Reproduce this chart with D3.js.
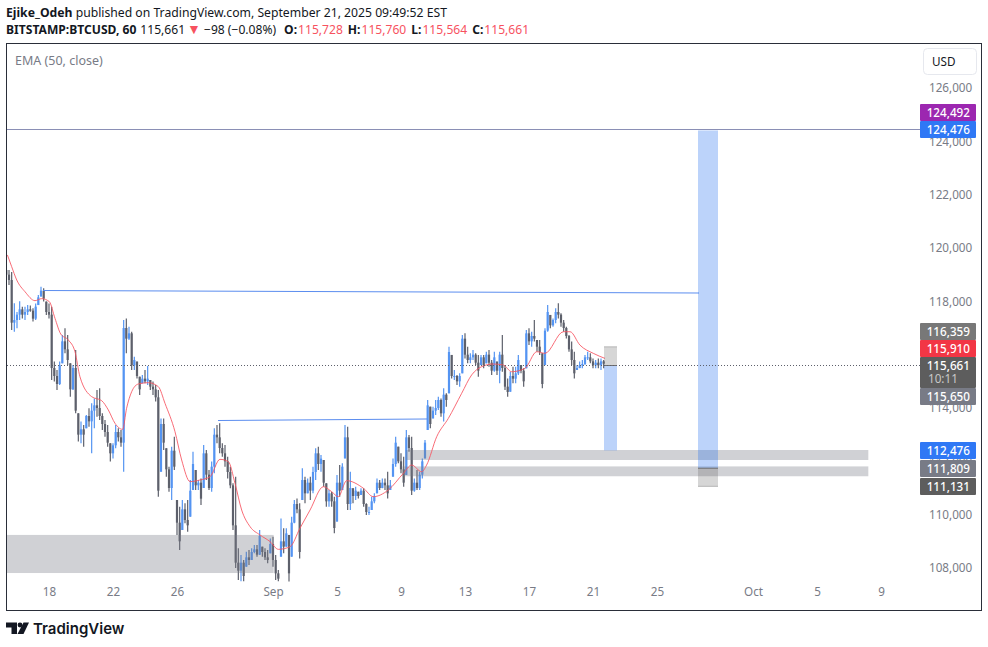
<!DOCTYPE html>
<html>
<head>
<meta charset="utf-8">
<script src="https://cdn.jsdelivr.net/npm/d3@7"></script>
<style>
  body { margin: 0; background: #fff; }
  svg text { font-family: "Noto Sans", sans-serif; }
  .axis path, .axis line { display: none; }
</style>
</head>
<body>
<script>
// 4 hour bars, first one is Aug 15 08:00
var highs = [119175,119175,119100,117925,117600,118000,117800,117800,117860,117840,117740,117920,118240,118550,118490,117990,117920,117800,115740,115425,115740,116740,116990,116740,115675,115610,116175,113800,113490,113360,113740,113990,114175,114360,114675,114740,113800,113550,113360,112675,112675,113360,113240,113175,117300,117360,117050,116860,115925,115740,115175,115240,115425,115575,115050,114990,114860,114675,113610,113610,112490,111800,112550,112925,110550,110300,110550,110425,110550,111300,112360,111675,111300,111360,112610,112425,111675,111990,113240,113360,113425,112675,112610,112175,111800,111175,111425,108740,108490,108300,108610,108675,108740,108860,108860,109425,108800,108740,108675,109110,109175,108490,107925,109860,109490,109490,109240,109925,110550,110610,110425,111740,111425,111360,111425,111800,112490,112550,112240,112050,111175,110925,110860,110675,111490,111860,111925,113360,113300,111610,110990,111050,110860,110990,110990,110425,110300,110675,110800,111360,111300,111360,111360,111610,111300,112110,112925,112550,112300,112175,113175,112990,112925,111360,111675,111610,112110,112800,114300,114050,114050,114300,114425,114360,114740,114550,116300,115990,115425,115240,115300,116740,116800,116300,116050,116175,116050,115990,115990,115990,116110,116175,115800,116110,115740,116110,116740,115610,115110,115360,115550,115550,115990,115610,115490,116925,116990,116860,117300,116550,116550,116050,116990,117860,117490,117360,117740,117925,117550,117300,117050,116740,116490,116110,115610,115740,115800,115990,116110,116050,115860,115800,115860,115860,115800];
var lows = [118612,118612,116925,116860,116990,117300,117360,117300,117490,117610,117240,117300,117860,118180,117990,117490,117360,115050,114990,114675,114860,115675,116050,115610,114425,114675,113800,112740,112675,112550,113240,113300,112300,113240,113675,113550,113175,112925,112550,111990,112110,112490,112740,112550,111610,116050,116550,115425,115425,115110,114490,114925,114925,114860,114675,114490,114240,110675,111610,112425,111425,110860,110550,111675,109240,108675,109425,109675,109360,109925,110925,110925,110925,110360,111000,111300,110925,110860,111550,112675,112300,112175,111800,111360,110990,109425,108000,107550,107500,107500,108050,108110,108300,108550,108425,108490,108425,108300,108175,108550,108050,107550,107500,108425,108550,108800,107490,108425,109675,110050,108360,110550,110425,110800,110550,110800,111300,111675,111610,111050,110300,110300,110300,109300,109740,110675,110925,112110,110175,110175,110425,110550,110610,110740,110300,109990,109990,110175,110425,110800,110925,110990,110925,110610,110925,111425,111800,111925,111550,111050,111490,112360,110740,110860,110925,110925,111360,112110,113175,113240,113610,113740,113925,113675,113490,114050,114550,115110,115050,114860,114800,115300,115860,115675,115675,115800,115610,115175,115610,115490,115675,115550,115240,115360,115240,114925,115360,114675,114425,114610,114925,114925,115240,115300,114800,115490,116360,116300,116490,116110,115990,114740,115610,116860,116990,117050,117175,117360,117050,116860,116610,116110,115610,115110,115425,115490,115490,115610,115800,115675,115490,115490,115490,115425,115490];
var closes = [119000,118800,117200,117300,117500,117700,117500,117600,117700,117650,117350,117800,118150,118400,118100,117600,117500,115500,115200,114900,115600,116500,116200,115800,114700,115500,113900,113000,113200,113000,113700,113500,113900,114100,114000,113700,113400,113100,112700,112300,112600,113100,112900,112700,117000,116600,116800,115600,115800,115200,114700,115100,115000,115100,114800,114700,114400,110900,113400,112700,111700,111000,112400,111800,109700,109000,110200,109800,109600,110900,111900,111100,111200,110600,112300,111500,111000,111800,113000,112900,112500,112300,112000,111600,111100,109600,108200,107900,108200,107700,108400,108300,108600,108700,108500,109200,108600,108400,108300,108900,108300,107800,107600,109000,108800,109300,107800,109700,110400,110200,108600,111300,110800,111200,110900,111600,112300,111900,112100,111200,110500,110800,110500,109500,111200,110900,111800,112900,110400,111000,110700,110900,110700,110900,110400,110100,110100,110500,110700,111200,111000,111200,111100,110800,111100,111900,112700,112000,111700,111200,112900,112500,110900,111200,111000,111500,112000,112700,114100,113400,113900,114000,114300,113800,114500,114300,116100,115200,115200,115000,115200,116600,116000,115800,115900,116000,115700,115400,115900,115600,116000,115700,115400,115900,115400,116000,115500,114800,114600,115200,115100,115300,115800,115400,115000,116800,116500,116700,116600,116300,116100,114900,116900,117600,117100,117300,117600,117500,117200,117000,116700,116200,115800,115300,115500,115600,115650,115900,115900,115750,115600,115700,115600,115750,115661];

// EMA (50), position given in bar numbers
var emaBars = [0.4,2,3.9,7,10.75,13.25,16.1,18.25,20.4,23.25,25.75,27.6,32,35.75,38.25,40.75,43.6,45.1,47,49.5,53.25,57,59.5,63.25,65.75,68.9,72.6,76.4,80.1,83.25,85.75,88.25,91.4,95.1,98.9,102,106.4,110.1,113.9,118.9,122,124.5,127.6,133.9,137.6,143.25,148.9,152,155.75,157.6,161.4,165.75,170.75,174.5,178.25,182.6,186.4,189.5,194.5,198.9,202,208.9,211.4,215.1,220.1,224.5];
var emaValues = [119740,119300,118800,118360,118025,118100,117990,117360,116775,116550,116110,115175,114425,114275,113925,113425,113200,113990,114610,114900,114950,114800,114175,113110,112050,111240,111300,111425,112075,111990,111175,110175,109550,109240,108990,108700,108800,109490,110175,111050,110860,110675,111275,110990,110675,110925,111550,111860,111610,111860,112925,113610,114550,115240,115550,115650,115610,115360,115490,116110,116050,116860,116860,116360,116050,115860];

var priceTicks = [126000,124000,122000,120000,118000,116000,114000,112000,110000,108000];
var timeTicks = [new Date(2025,7,18),new Date(2025,7,22),new Date(2025,7,26),new Date(2025,8,1),new Date(2025,8,5),new Date(2025,8,9),new Date(2025,8,13),new Date(2025,8,17),new Date(2025,8,21),new Date(2025,8,25),new Date(2025,9,1),new Date(2025,9,5),new Date(2025,9,9)];
var timeLabels = ["18","22","26","Sep","5","9","13","17","21","25","Oct","5","9"];

// price tags on the right scale
var tagValues = [124492,124476,116359,115910,115650,112476,111809,111131];
var tagColors = ["#9c27b0","#2f78f5","#787878","#f23645","#787b86","#2f78f5","#787b86","#5d5d5d"];

var firstBar = new Date(2025,7,15,8);
var lastPrice = 115661;

// tags get pushed apart so they do not sit on each other
var tagCenters = [112.5,129.5,331.5,348.5,396.5,450.5,468.5,486.5];

var w = 988, h = 647;
var left = 6.5, right = 981.5, top_ = 43.5, bottom = 610.5;
var labelShift = -1.8; // tick labels and traced marks sit a bit above the real levels

var svg = d3.select("body").append("svg")
  .attr("width", w)
  .attr("height", h)
  .style("display", "block");

// 16 px per day
var x = d3.scaleTime()
  .domain([new Date(2025,7,18), new Date(2025,9,9)])
  .range([49, 881]);
var y = d3.scaleLinear()
  .domain([126000, 108000])
  .range([89.8, 569.8]);

function barTime(i) {
  return new Date(firstBar.getTime() + i * 4 * 3600 * 1000);
}

svg.append("clipPath").attr("id", "plot")
  .append("rect")
  .attr("x", left + 0.5).attr("y", top_)
  .attr("width", 914).attr("height", bottom - top_);

// axes first, the tags sit on top of them
var priceAxis = d3.axisRight(y)
  .tickValues(priceTicks)
  .tickSize(0)
  .tickFormat(d3.format(","));
svg.append("g").attr("class", "axis")
  .attr("transform", "translate(929," + labelShift + ")")
  .call(priceAxis)
  .selectAll("text")
  .attr("font-size", "11.7px")
  .attr("fill", "#787b86")
  .attr("x", 0);

var timeAxis = d3.axisBottom(x)
  .tickValues(timeTicks)
  .tickSize(0)
  .tickFormat(function(d, i) { return timeLabels[i]; });
svg.append("g").attr("class", "axis")
  .attr("transform", "translate(0,588)")
  .call(timeAxis)
  .selectAll("text")
  .attr("font-size", "11.7px")
  .attr("fill", "#787b86")
  .attr("dy", "0.71em")
  .attr("y", 0);

var plot = svg.append("g").attr("clip-path", "url(#plot)");
var traced = plot.append("g").attr("transform", "translate(0," + labelShift + ")");

// candles
var bars = traced.append("g").selectAll("g")
  .data(closes)
  .enter()
  .append("g")
  .attr("fill", barColor)
  .attr("stroke", barColor);

function barOpen(i) {
  return i == 0 ? highs[0] : closes[i - 1];
}
function barColor(d, i) {
  return d >= barOpen(i) ? "#5494f2" : "#5d606b";
}

bars.append("line")
  .attr("x1", function(d, i) { return x(barTime(i)); })
  .attr("x2", function(d, i) { return x(barTime(i)); })
  .attr("y1", function(d, i) { return y(highs[i]); })
  .attr("y2", function(d, i) { return y(lows[i]); })
  .attr("stroke-width", 1.2);

bars.append("rect")
  .attr("stroke", "none")
  .attr("x", function(d, i) { return x(barTime(i)) - 1.1; })
  .attr("width", 2.2)
  .attr("y", function(d, i) {
    return y(Math.min(highs[i], Math.max(d, barOpen(i))));
  })
  .attr("height", function(d, i) {
    var t = Math.min(highs[i], Math.max(d, barOpen(i)));
    var b = Math.max(lows[i], Math.min(d, barOpen(i)));
    return Math.max(1, y(b) - y(t));
  });

// grey zones
var zoneFill = "rgba(120,123,134,0.35)";
var zones = [
  {from: new Date(2025,7,15,8), to: new Date(2025,8,1,1), hi: 109240, lo: 107812},
  {from: new Date(2025,8,9,7), to: new Date(2025,9,8,5), hi: 112425, lo: 112050},
  {from: new Date(2025,8,9,2), to: new Date(2025,9,8,5), hi: 111810, lo: 111440}
];
traced.selectAll("rect.zone")
  .data(zones)
  .enter()
  .append("rect")
  .attr("class", "zone")
  .attr("x", function(d) { return x(d.from); })
  .attr("width", function(d) { return x(d.to) - x(d.from); })
  .attr("y", function(d) { return y(d.hi); })
  .attr("height", function(d) { return y(d.lo) - y(d.hi); })
  .attr("fill", zoneFill);

// position tools: blue target part, grey stop part
var tools = [
  {from: new Date(2025,8,21,16,30), to: new Date(2025,8,22,12), entry: 115661, target: 112476, stop: 116359},
  {from: new Date(2025,8,27,13,30), to: new Date(2025,8,28,19,30), entry: 111809, target: 124476, stop: 111131}
];
plot.selectAll("rect.target")
  .data(tools)
  .enter()
  .append("rect")
  .attr("x", function(d) { return x(d.from); })
  .attr("width", function(d) { return x(d.to) - x(d.from); })
  .attr("y", function(d) { return Math.min(y(d.entry), y(d.target)); })
  .attr("height", function(d) { return Math.abs(y(d.entry) - y(d.target)); })
  .attr("fill", "rgba(33,110,240,0.3)");
plot.selectAll("rect.stop")
  .data(tools)
  .enter()
  .append("rect")
  .attr("x", function(d) { return x(d.from); })
  .attr("width", function(d) { return x(d.to) - x(d.from); })
  .attr("y", function(d) { return Math.min(y(d.entry), y(d.stop)); })
  .attr("height", function(d) { return Math.abs(y(d.entry) - y(d.stop)); })
  .attr("fill", "rgba(90,90,90,0.25)");
plot.selectAll("line.entry")
  .data(tools)
  .enter()
  .append("line")
  .attr("x1", function(d) { return x(d.from); })
  .attr("x2", function(d) { return x(d.to); })
  .attr("y1", function(d) { return y(d.entry); })
  .attr("y2", function(d) { return y(d.entry); })
  .attr("stroke", "#6f6f6f");
plot.selectAll("line.stop")
  .data(tools)
  .enter()
  .append("line")
  .attr("x1", function(d) { return x(d.from); })
  .attr("x2", function(d) { return x(d.to); })
  .attr("y1", function(d) { return y(d.stop); })
  .attr("y2", function(d) { return y(d.stop); })
  .attr("stroke", "#b5b5b5");

// EMA
var emaLine = d3.line()
  .x(function(d) { return x(barTime(d)); })
  .y(function(d, i) { return y(emaValues[i]); })
  .curve(d3.curveMonotoneX);
traced.append("path")
  .attr("d", emaLine(emaBars))
  .attr("fill", "none")
  .attr("stroke", "#f7525f")
  .attr("stroke-width", 1)
  .attr("opacity", 0.85);

// blue trend lines
var trends = [
  {x1: new Date(2025,7,17,15), y1: 118406, x2: new Date(2025,8,27,15), y2: 118312},
  {x1: new Date(2025,7,28,13,30), y1: 113531, x2: new Date(2025,8,10,15), y2: 113588}
];
traced.selectAll("line.trend")
  .data(trends)
  .enter()
  .append("line")
  .attr("x1", function(d) { return x(d.x1); })
  .attr("x2", function(d) { return x(d.x2); })
  .attr("y1", function(d) { return y(d.y1); })
  .attr("y2", function(d) { return y(d.y2); })
  .attr("stroke", "#5b8def")
  .attr("stroke-width", 1);

// top horizontal line, snapped to a pixel row
var topLineY = Math.round(y(tagValues[1])) - 0.5;
plot.append("line")
  .attr("x1", left).attr("x2", 920)
  .attr("y1", topLineY).attr("y2", topLineY)
  .attr("stroke", "#8a8fb5")
  .attr("stroke-width", 1);

// last price dotted line
plot.append("line")
  .attr("x1", 7).attr("x2", 920)
  .attr("y1", y(lastPrice)).attr("y2", y(lastPrice))
  .attr("stroke", "#5d606b")
  .attr("stroke-dasharray", "1 2");

// frame
svg.append("rect")
  .attr("x", left).attr("y", top_)
  .attr("width", right - left).attr("height", bottom - top_)
  .attr("fill", "none")
  .attr("stroke", "#2a2e39");

// currency button
svg.append("rect")
  .attr("x", 923.5).attr("y", 48.5)
  .attr("width", 53).attr("height", 26).attr("rx", 4)
  .attr("fill", "#fff").attr("stroke", "#e6e8ee");
svg.append("text")
  .attr("x", 932).attr("y", 65.5)
  .attr("font-size", "11.7px").attr("fill", "#131722")
  .text("USD");

// price tags
var tagFormat = d3.format(",");
var tags = svg.append("g").selectAll("g")
  .data(tagValues)
  .enter()
  .append("g");
tags.append("rect")
  .attr("x", 920)
  .attr("width", 56)
  .attr("height", 17)
  .attr("rx", 1)
  .attr("y", function(d, i) { return tagCenters[i] - 8.5; })
  .attr("fill", function(d, i) { return tagColors[i]; });
tags.append("text")
  .attr("x", 970)
  .attr("y", function(d, i) { return tagCenters[i] + 4.5; })
  .attr("text-anchor", "end")
  .attr("font-size", "11.7px")
  .attr("font-weight", 500)
  .attr("fill", "#fff")
  .text(function(d) { return tagFormat(d); });

// last price tag has the countdown under it
svg.append("rect")
  .attr("x", 920).attr("y", 357)
  .attr("width", 56).attr("height", 31).attr("rx", 1)
  .attr("fill", "#5d5d5d");
svg.append("text")
  .attr("x", 970).attr("y", 370)
  .attr("text-anchor", "end")
  .attr("font-size", "11.7px").attr("font-weight", 500).attr("fill", "#fff")
  .text(tagFormat(lastPrice));
svg.append("text")
  .attr("x", 928).attr("y", 383)
  .attr("font-size", "11.7px").attr("fill", "#c9c9c9")
  .text("10:11");

// header
svg.append("text")
  .attr("x", 6).attr("y", 17)
  .attr("font-size", "12.2px")
  .attr("fill", "#131722")
  .html('<tspan font-weight="700">Ejike_Odeh</tspan> published on TradingView.com, September 21, 2025 09:49:52 EST');

var line2 = svg.append("text")
  .attr("x", 6).attr("y", 34)
  .attr("font-size", "12.1px")
  .attr("fill", "#131722");
line2.append("tspan").attr("font-weight", 700).text("BITSTAMP:BTCUSD, 60");
line2.append("tspan").attr("dx", 4).text("115,661");
line2.append("tspan").attr("dx", 2).attr("fill", "#f7525f").attr("font-size", "14px").text("▼");
line2.append("tspan").attr("dx", 3).text("−98 (−0.08%)");
line2.append("tspan").attr("dx", 8).attr("font-weight", 700).text("O:");
line2.append("tspan").attr("dx", 1).attr("fill", "#f7525f").text("115,728");
line2.append("tspan").attr("dx", 5).attr("font-weight", 700).text("H:");
line2.append("tspan").attr("dx", 1).attr("fill", "#f7525f").text("115,760");
line2.append("tspan").attr("dx", 5).attr("font-weight", 700).text("L:");
line2.append("tspan").attr("dx", 1).attr("fill", "#f7525f").text("115,564");
line2.append("tspan").attr("dx", 5).attr("font-weight", 700).text("C:");
line2.append("tspan").attr("dx", 1).attr("fill", "#f7525f").text("115,661");

svg.append("text")
  .attr("x", 15).attr("y", 65)
  .attr("font-size", "12.5px")
  .attr("fill", "#787b86")
  .text("EMA (50, close)");

// logo
var logo = svg.append("g").attr("fill", "#131722");
logo.append("path").attr("d", "M6 622.5h11v11.5h-5.5v-6.5H6z");
logo.append("circle").attr("cx", 20).attr("cy", 625).attr("r", 2.4);
logo.append("path").attr("d", "M23.5 622.5H29L23.5 634H17.5z");
svg.append("text")
  .attr("x", 33).attr("y", 634)
  .style("font-family", "Inter, sans-serif")
  .attr("font-size", "15px")
  .attr("font-weight", 600)
  .attr("fill", "#131722")
  .text("TradingView");
</script>
</body>
</html>
